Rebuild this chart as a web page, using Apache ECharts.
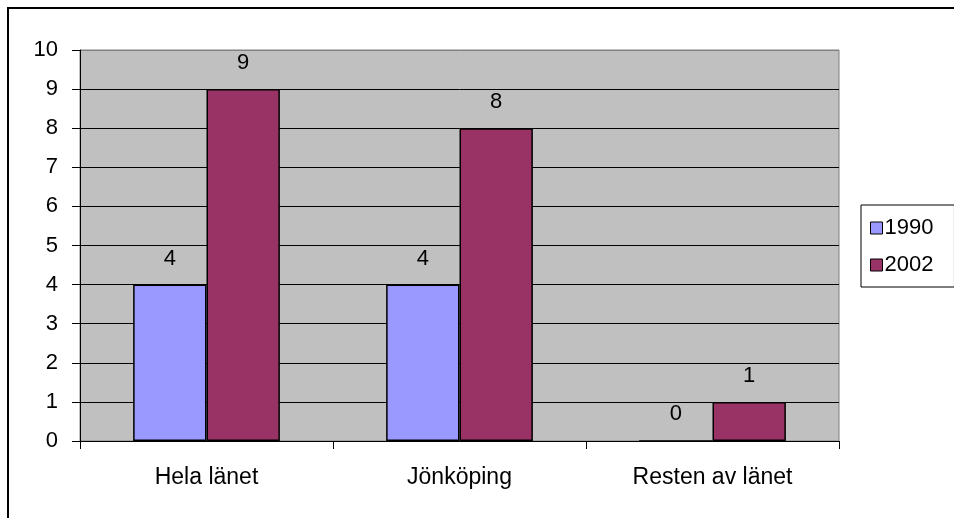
<!DOCTYPE html>
<html lang="sv">
<head>
  <meta charset="UTF-8">
  <title>Diagram</title>
  <script src="https://cdn.jsdelivr.net/npm/echarts@6/dist/echarts.min.js"></script>
  <style>
    html, body { margin: 0; padding: 0; background: #fff; }
  </style>
</head>
<body>
  <div id="app" style="width: 954px; height: 518px;"></div>
  <script>
    var categories = ['Hela länet', 'Jönköping', 'Resten av länet']
    var seriesNames = ['1990', '2002']
    var values1990 = [4, 4, 0]
    var values2002 = [9, 8, 1]
    var yTicks = [0, 1, 2, 3, 4, 5, 6, 7, 8, 9, 10]

    var font = 'Liberation Sans, Arial, sans-serif'
    var app = document.querySelector('#app')
    var mCharts = echarts.init(app)

    // gridlines black, the top one (max) takes the plot border colour
    var splitColors = yTicks.map(function (t, i) {
      return i === yTicks.length - 1 ? '#808080' : '#000'
    })

    var labelStyle = {
      show: true,
      position: 'top',
      distance: 15,
      color: '#000',
      fontSize: 22,
      fontFamily: font
    }

    var option = {
      animation: false,
      textStyle: { fontFamily: font },
      graphic: [
        {
          type: 'rect',
          shape: { x: 8, y: 8, width: 960, height: 530 },
          style: { fill: 'none', stroke: '#000', lineWidth: 2 },
          silent: true
        }
      ],
      grid: {
        left: 80,
        right: 115,
        top: 50,
        bottom: 77,
        show: true,
        backgroundColor: '#C0C0C0',
        borderColor: '#808080',
        borderWidth: 1
      },
      legend: {
        orient: 'vertical',
        left: 861,
        top: 205,
        data: seriesNames,
        backgroundColor: '#fff',
        borderColor: '#000',
        borderWidth: 1,
        padding: [12, 21, 11, 9],
        itemWidth: 12,
        itemHeight: 12,
        itemGap: 15,
        icon: 'rect',
        itemStyle: { borderColor: '#000', borderWidth: 1 },
        textStyle: { fontSize: 22, color: '#000', fontFamily: font, padding: [0, 0, 0, -3] }
      },
      xAxis: {
        type: 'category',
        data: categories,
        axisLine: { lineStyle: { color: '#000', width: 1 } },
        axisTick: { show: true, length: 8, alignWithLabel: false, lineStyle: { color: '#000' } },
        axisLabel: { color: '#000', fontSize: 23, fontFamily: font, margin: 25 },
        splitLine: { show: false }
      },
      yAxis: {
        type: 'value',
        min: 0,
        max: 10,
        interval: 1,
        axisLine: { show: true, lineStyle: { color: '#000', width: 1 } },
        axisTick: { show: true, length: 8, lineStyle: { color: '#000' } },
        axisLabel: { color: '#000', fontSize: 22, fontFamily: font, margin: 22 },
        splitLine: { show: true, lineStyle: { color: splitColors, width: 1 } }
      },
      series: [
        {
          name: seriesNames[0],
          type: 'bar',
          data: values1990,
          barGap: '0%',
          barCategoryGap: '42%',
          itemStyle: { color: '#9999FF', borderColor: '#000', borderWidth: 1.5 },
          label: labelStyle
        },
        {
          name: seriesNames[1],
          type: 'bar',
          data: values2002,
          barGap: '0%',
          barCategoryGap: '42%',
          itemStyle: { color: '#993366', borderColor: '#000', borderWidth: 1.5 },
          label: labelStyle
        }
      ]
    }
    mCharts.setOption(option)
  </script>
</body>
</html>
